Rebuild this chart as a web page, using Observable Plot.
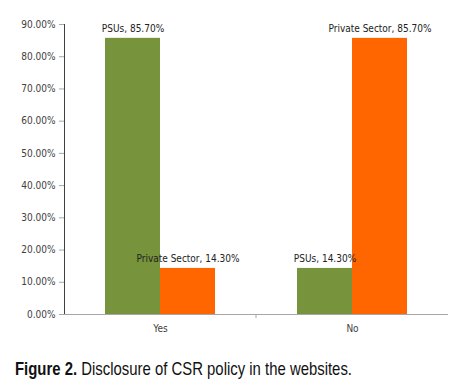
<!DOCTYPE html>
<html>
<head>
<meta charset="utf-8">
<script src="https://cdn.jsdelivr.net/npm/d3@7"></script>
<script src="https://cdn.jsdelivr.net/npm/@observablehq/plot@0.6"></script>
<style>
  body { margin: 0; background: #fff; width: 454px; height: 386px; overflow: hidden; }
  #chart svg { display: block; }
  #caption { margin: 12px 0 0 15px; height: 24px; white-space: nowrap; }
  #captext { display: inline-block; font-family: "Liberation Sans", Arial, sans-serif; font-size: 19px; color: #111; transform-origin: 0 0; }
  #captext b { font-weight: bold; }
</style>
</head>
<body>
<div id="chart"></div>
<div id="caption"><span id="captext"><b>Figure 2.</b> Disclosure of CSR policy in the websites.</span></div>
<script>
const answers = ["Yes", "No"];
const sectors = ["PSUs", "Private Sector"];
const psuValues = [0.857, 0.143];
const privateValues = [0.143, 0.857];
const yTicks = [0, 0.1, 0.2, 0.3, 0.4, 0.5, 0.6, 0.7, 0.8, 0.9];
const colors = ["#77933C", "#FF6600"];

const data = [];
answers.forEach((a, i) => {
  data.push({answer: a, sector: sectors[0], value: psuValues[i]});
  data.push({answer: a, sector: sectors[1], value: privateValues[i]});
});

const pct = d3.format(".2%");
const font = '"DejaVu Sans Condensed", "Liberation Sans Narrow", sans-serif';

const chart = Plot.plot({
  width: 454,
  height: 346,
  marginLeft: 64,
  marginRight: 6,
  marginTop: 24,
  marginBottom: 32,
  style: {fontFamily: font, fontSize: "10px", color: "#404040", background: "#fff"},
  fx: {domain: answers, padding: 0, label: null, axis: "bottom", tickSize: 0, tickPadding: 10},
  x: {domain: sectors, paddingInner: 0, paddingOuter: 0.745, axis: null},
  y: {domain: [0, 0.9], ticks: yTicks, tickFormat: pct, label: null, tickSize: 5, tickPadding: 4, line: true},
  color: {domain: sectors, range: colors},
  marks: [
    Plot.barY(data, {fx: "answer", x: "sector", y: "value", fill: "sector"}),
    Plot.ruleY([0], {stroke: "#a6a6a6"}),
    Plot.text(data, {fx: "answer", x: "sector", y: "value", text: d => `${d.sector}, ${pct(d.value)}`, lineAnchor: "bottom", dy: -6, fill: "#222", fontSize: 10})
  ]
});
document.getElementById("chart").appendChild(chart);

// y-axis line colour and category boundary tick
const svg = d3.select(chart);
svg.selectAll("[aria-label='y-axis tick'] path, [aria-label='y-axis line'] line, [aria-label='y-axis line'] path").attr("stroke", "#a6a6a6");
const fxs = chart.scale("fx");
const ys = chart.scale("y");
const bx = fxs.apply("No");
const by = ys.apply(0);
svg.append("line").attr("x1", bx).attr("x2", bx).attr("y1", by).attr("y2", by + 4).attr("stroke", "#a6a6a6");

// condense caption to the reference's narrow face
const cap = document.getElementById("captext");
const w = cap.getBoundingClientRect().width;
cap.style.transform = `scaleX(${337 / w})`;
</script>
</body>
</html>
